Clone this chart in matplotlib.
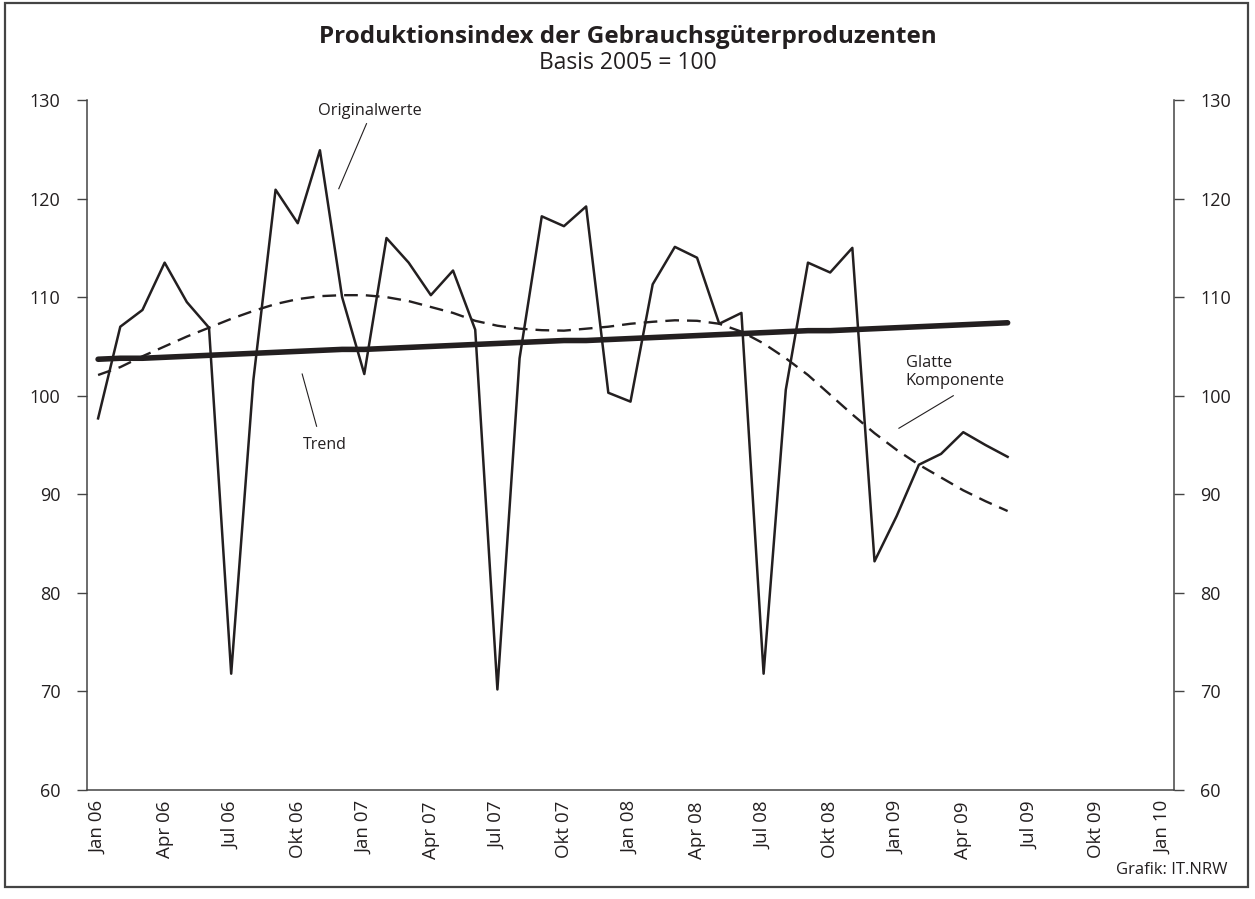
import matplotlib
matplotlib.use("Agg")
import matplotlib.pyplot as plt
from matplotlib.patches import Rectangle

plt.rcParams['font.family'] = ['Open Sans', 'DejaVu Sans']

months = list(range(42))  # Jan 06 .. Jun 09
originalwerte = [97.7, 107.0, 108.7, 113.5, 109.5, 106.9, 71.8, 101.6, 120.9, 117.5, 124.9, 110.0,
                 102.2, 116.0, 113.5, 110.2, 112.7, 106.7, 70.2, 103.8, 118.2, 117.2, 119.2, 100.3,
                 99.4, 111.3, 115.1, 114.0, 107.3, 108.4, 71.8, 100.6, 113.5, 112.5, 115.0, 83.2,
                 87.8, 93.0, 94.1, 96.3, 95.0, 93.8]
trend = [103.7, 103.8, 103.8, 103.9, 104.0, 104.1, 104.2, 104.3, 104.4, 104.5, 104.6, 104.7,
         104.7, 104.8, 104.9, 105.0, 105.1, 105.2, 105.3, 105.4, 105.5, 105.6, 105.6, 105.7,
         105.8, 105.9, 106.0, 106.1, 106.2, 106.3, 106.4, 106.5, 106.6, 106.6, 106.7, 106.8,
         106.9, 107.0, 107.1, 107.2, 107.3, 107.4]
glatte = [102.1, 102.9, 104.0, 105.0, 106.0, 106.9, 107.8, 108.6, 109.3, 109.8, 110.1, 110.2,
          110.2, 110.0, 109.6, 109.0, 108.4, 107.6, 107.1, 106.8, 106.65, 106.6, 106.8, 107.0,
          107.3, 107.5, 107.65, 107.6, 107.3, 106.5, 105.3, 103.8, 102.1, 100.1, 98.1, 96.2,
          94.5, 93.0, 91.7, 90.4, 89.3, 88.3]

tick_pos = [0, 3, 6, 9, 12, 15, 18, 21, 24, 27, 30, 33, 36, 39, 42, 45, 48]
tick_labels = ["Jan 06", "Apr 06", "Jul 06", "Okt 06", "Jan 07", "Apr 07", "Jul 07", "Okt 07",
               "Jan 08", "Apr 08", "Jul 08", "Okt 08", "Jan 09", "Apr 09", "Jul 09", "Okt 09", "Jan 10"]
y_ticks = [60, 70, 80, 90, 100, 110, 120, 130]

W, H = 1255, 899
fig = plt.figure(figsize=(W / 100, H / 100), dpi=100)
ax = fig.add_axes([87 / W, (H - 790) / H, (1174 - 87) / W, (790 - 100) / H])

txt_col = '#231f20'
ax.plot(months, glatte, color=txt_col, lw=1.7, dashes=(5.8, 3.4))
ax.plot(months, trend, color=txt_col, lw=4.0, solid_capstyle='round')
ax.plot(months, originalwerte, color=txt_col, lw=1.8)

ax.set_xlim(-0.5, 48.5)
ax.set_ylim(60, 130)
ax.set_yticks(y_ticks)
ax.set_yticklabels([str(v) for v in y_ticks])
ax.set_xticks(tick_pos)
ax.set_xticklabels(tick_labels, rotation=90)
ax.tick_params(axis='x', length=0, pad=8, labelsize=13.5, labelcolor=txt_col)
ax.tick_params(axis='y', direction='out', length=7, width=1, color='#444444', pad=12,
               labelsize=13, labelcolor=txt_col, left=True, right=True,
               labelleft=True, labelright=True)
for s in ['left', 'right', 'bottom']:
    ax.spines[s].set_color('#444444')
    ax.spines[s].set_linewidth(1.1)
ax.spines['top'].set_visible(False)

# Annotations
ax.text(12.25, 128.9, "Originalwerte", fontsize=11.8, ha='center', va='center', color=txt_col)
ax.plot([12.1, 10.85], [127.6, 121.0], color=txt_col, lw=0.8)
ax.text(10.2, 95.0, "Trend", fontsize=11.5, ha='center', va='center', color=txt_col)
ax.plot([9.2, 9.85], [102.2, 96.9], color=txt_col, lw=0.8)
ax.text(36.4, 102.4, "Glatte\nKomponente", fontsize=11.8, ha='left', va='center',
        color=txt_col, linespacing=1.1)
ax.plot([38.55, 36.1], [100.0, 96.7], color=txt_col, lw=0.8)

fig.text(628 / W, 1 - 37 / H, "Produktionsindex der Gebrauchsgüterproduzenten", ha='center',
         va='center', fontsize=17.5, fontweight='bold', color=txt_col)
fig.text(628 / W, 1 - 63 / H, "Basis 2005 = 100", ha='center', va='center', fontsize=16.5,
         color=txt_col)
fig.text(1228 / W, 1 - 870 / H, "Grafik: IT.NRW", ha='right', va='center', fontsize=12,
         color=txt_col)

fig.patches.append(Rectangle((5 / W, 12 / H), 1243 / W, 884 / H, transform=fig.transFigure,
                             fill=False, edgecolor='#444444', lw=1.6))

fig.savefig("out.png", dpi=100)
